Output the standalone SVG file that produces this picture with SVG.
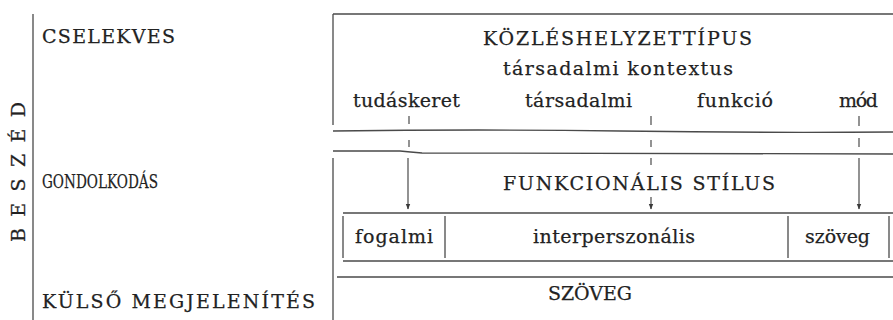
<svg xmlns="http://www.w3.org/2000/svg" width="893" height="320" viewBox="0 0 893 320">
<style>
  .t { font-family: "DejaVu Serif", "Liberation Serif", serif; font-size: 19px; fill: #222222; stroke: #222222; stroke-width: 0.25; }
  .s { font-size: 19px; }
  .ln { stroke: #4a4a4a; stroke-width: 1.3; fill: none; }
  .tk { stroke: #4a4a4a; stroke-width: 1.2; fill: none; }
</style>
<defs>
  <marker id="arr" markerWidth="6" markerHeight="6" refX="5" refY="3" orient="auto" markerUnits="userSpaceOnUse">
    <path d="M0,0.8 L5.5,3 L0,5.2 Z" fill="#3a3a3a"/>
  </marker>
</defs>
<rect width="893" height="320" fill="#ffffff"/>

<g id="beszed">
  <line class="ln" x1="33" y1="14" x2="33" y2="320"/>
  <text class="t" transform="translate(25,172) rotate(-90)" x="0" y="0" text-anchor="middle" textLength="140" lengthAdjust="spacing">BESZÉD</text>
</g>
<g id="cselekves"><text class="t" x="42" y="43" textLength="133" lengthAdjust="spacing">CSELEKVES</text></g>
<g id="gondolkodas"><text class="t" x="42" y="188" textLength="116" lengthAdjust="spacingAndGlyphs">GONDOLKODÁS</text></g>
<g id="kulso"><text class="t" x="42" y="308" textLength="273" lengthAdjust="spacing">KÜLSŐ MEGJELENÍTÉS</text></g>

<g id="kozleshelyzettipus">
  <line class="ln" x1="333" y1="14" x2="893" y2="14"/>
  <line class="ln" x1="333" y1="14" x2="333" y2="125"/>
  <text class="t" x="483" y="45" textLength="269" lengthAdjust="spacing">KÖZLÉSHELYZETTÍPUS</text>
  <text class="t s" x="503" y="75" textLength="230" lengthAdjust="spacing">társadalmi  kontextus</text>
  <text class="t s" x="353" y="107" textLength="107" lengthAdjust="spacing">tudáskeret</text>
  <text class="t s" x="525" y="107" textLength="107" lengthAdjust="spacing">társadalmi</text>
  <text class="t s" x="697" y="107" textLength="76" lengthAdjust="spacing">funkció</text>
  <text class="t s" x="839" y="107" textLength="39" lengthAdjust="spacing">mód</text>
</g>

<g id="break">
  <path class="ln" d="M333,131 Q480,129 620,131 T893,132"/>
  <path class="ln" d="M333,151 L400,151 Q410,152 422,153 L893,154"/>
</g>

<g id="funkcionalis-stilus">
  <line class="ln" x1="333" y1="158" x2="333" y2="320"/>
  <text class="t" x="503" y="190" textLength="272" lengthAdjust="spacing">FUNKCIONÁLIS STÍLUS</text>
</g>

<g id="tipusok">
  <line class="ln" x1="343" y1="213" x2="893" y2="213"/>
  <line class="ln" x1="343" y1="261" x2="893" y2="261"/>
  <line class="ln" x1="343" y1="216" x2="343" y2="258"/>
  <line class="ln" x1="445" y1="216" x2="445" y2="258"/>
  <line class="ln" x1="788" y1="216" x2="788" y2="258"/>
  <line class="ln" x1="889" y1="216" x2="889" y2="258"/>
  <text class="t s" x="355" y="243" textLength="78" lengthAdjust="spacing">fogalmi</text>
  <text class="t s" x="533" y="243" textLength="162" lengthAdjust="spacing">interperszonális</text>
  <text class="t s" x="805" y="243" textLength="65" lengthAdjust="spacing">szöveg</text>
</g>

<g id="szoveg">
  <line class="ln" x1="337" y1="277" x2="893" y2="277"/>
  <text class="t" x="548" y="300" textLength="84" lengthAdjust="spacing">SZÖVEG</text>
</g>

<g id="connectors">
  <line class="tk" x1="409" y1="116" x2="409" y2="124"/>
  <line class="tk" x1="409" y1="140" x2="409" y2="147"/>
  <line class="tk" x1="408" y1="158" x2="408" y2="209" marker-end="url(#arr)"/>

  <line class="tk" x1="651" y1="116" x2="651" y2="125"/>
  <line class="tk" x1="651" y1="140" x2="651" y2="147"/>
  <line class="tk" x1="651" y1="158" x2="651" y2="165"/>
  <line class="tk" x1="651" y1="197" x2="651" y2="209" marker-end="url(#arr)"/>

  <line class="tk" x1="859" y1="116" x2="859" y2="126"/>
  <line class="tk" x1="859" y1="138" x2="859" y2="147"/>
  <line class="tk" x1="859" y1="158" x2="859" y2="209" marker-end="url(#arr)"/>
</g>
</svg>
